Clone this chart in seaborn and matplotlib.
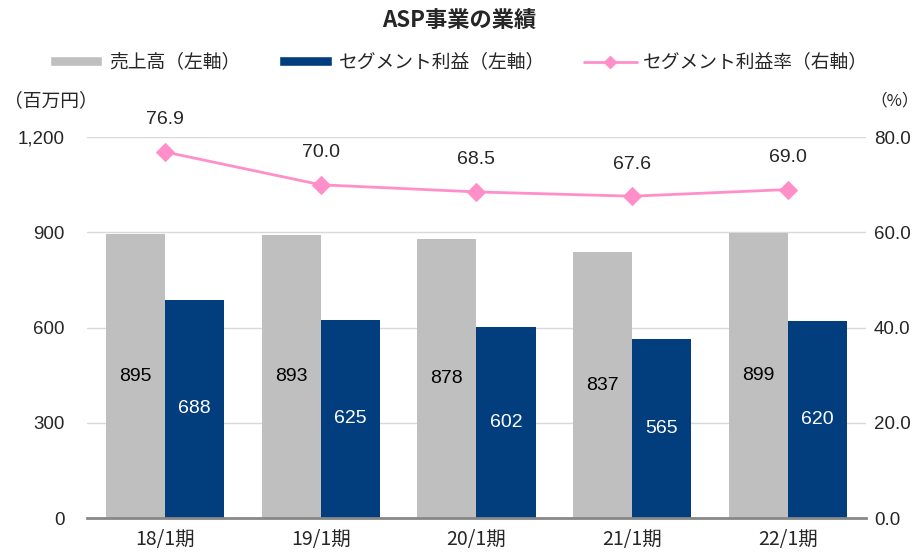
import pandas as pd
import matplotlib.pyplot as plt
import seaborn as sns
from matplotlib.patches import Patch
from matplotlib.lines import Line2D
from matplotlib.ticker import FuncFormatter

# Chart values
periods = ["18/1期", "19/1期", "20/1期", "21/1期", "22/1期"]
sales = [895, 893, 878, 837, 899]
segment_profit = [688, 625, 602, 565, 620]
profit_margin = [76.9, 70.0, 68.5, 67.6, 69.0]

sales_label = "売上高（左軸）"
profit_label = "セグメント利益（左軸）"
margin_label = "セグメント利益率（右軸）"

gray = "#BFBFBF"
navy = "#023D7E"
pink = "#FF8FC8"

sns.set_style("white")
plt.rcParams["font.family"] = ["Noto Sans CJK JP", "DejaVu Sans"]

# Long table for seaborn barplot
bars = pd.DataFrame({
    "period": periods * 2,
    "value": sales + segment_profit,
    "series": [sales_label] * len(periods) + [profit_label] * len(periods),
})

fig = plt.figure(figsize=(9.18, 5.53), dpi=100)
ax = fig.add_axes([0.095, 0.063, 0.848, 0.689])

sns.barplot(ax=ax, data=bars, x="period", y="value", hue="series",
            palette=[gray, navy], width=0.76, gap=0, saturation=1,
            edgecolor="none", legend=False)

ax.set_ylim(0, 1200)
ax.set_xlim(-0.5, len(periods) - 0.5)
ax.set_yticks([0, 300, 600, 900, 1200])
ax.yaxis.set_major_formatter(FuncFormatter(lambda v, p: f"{int(v):,}"))
ax.grid(axis="y", color="#D9D9D9", linewidth=1)
ax.set_axisbelow(True)
ax.set_xlabel("")
ax.set_ylabel("")
for s in ["top", "left", "right"]:
    ax.spines[s].set_visible(False)
ax.spines["bottom"].set_color("#888888")
ax.spines["bottom"].set_linewidth(2)
ax.tick_params(axis="y", length=0, pad=16, labelsize=13.5)
ax.tick_params(axis="x", which="major", length=0, pad=8, labelsize=14)
ax.set_xticks([i - 0.5 for i in range(len(periods) + 1)], minor=True)
ax.tick_params(axis="x", which="minor", length=5, width=2, color="#888888")
for lbl in ax.get_yticklabels():
    lbl.set_family(["Liberation Sans", "DejaVu Sans"])

# value labels in the middle of each bar
for i, (s, p) in enumerate(zip(sales, segment_profit)):
    ax.text(i - 0.19, s / 2, f"{s}", ha="center", va="center",
            fontsize=14, color="black", family=["Liberation Sans"])
    ax.text(i + 0.19, p / 2, f"{p}", ha="center", va="center",
            fontsize=14, color="white", family=["Liberation Sans"])

# profit margin on right axis
ax2 = ax.twinx()
margin = pd.DataFrame({"x": range(len(periods)), "margin": profit_margin})
sns.lineplot(ax=ax2, data=margin, x="x", y="margin", color=pink,
             linewidth=2, marker="D", markersize=9, markeredgecolor=pink)
ax2.set_ylim(0, 80)
ax2.set_yticks([0, 20, 40, 60, 80])
ax2.yaxis.set_major_formatter(FuncFormatter(lambda v, p: f"{v:.1f}"))
ax2.tick_params(axis="y", length=0, pad=6, labelsize=13.5)
ax2.set_ylabel("")
ax2.set_xlabel("")
for s in ["top", "left", "right", "bottom"]:
    ax2.spines[s].set_visible(False)
for lbl in ax2.get_yticklabels():
    lbl.set_family(["Liberation Sans", "DejaVu Sans"])
for i, m in enumerate(profit_margin):
    ax2.annotate(f"{m:.1f}", (i, m), xytext=(0, 23), textcoords="offset points",
                 ha="center", va="center", fontsize=14, family=["Liberation Sans"])

# title, legend and axis units
fig.text(0.5, 0.962, "ASP事業の業績", ha="center", va="center",
         fontsize=16, fontweight="bold")
handles = [
    Patch(facecolor=gray, label=sales_label),
    Patch(facecolor=navy, label=profit_label),
    Line2D([0], [0], color=pink, linewidth=2, marker="D", markersize=6, label=margin_label),
]
fig.legend(handles=handles, loc="center", bbox_to_anchor=(0.5, 0.888), ncol=3,
           frameon=False, fontsize=13.5, handlelength=2.8, handleheight=0.45,
           columnspacing=2.1, handletextpad=0.35)
fig.text(0.004, 0.818, "（百万円）", ha="left", va="center", fontsize=13.5)
fig.text(0.948, 0.818, "（%）", ha="left", va="center", fontsize=12)

plt.savefig("out.png", dpi=100)
